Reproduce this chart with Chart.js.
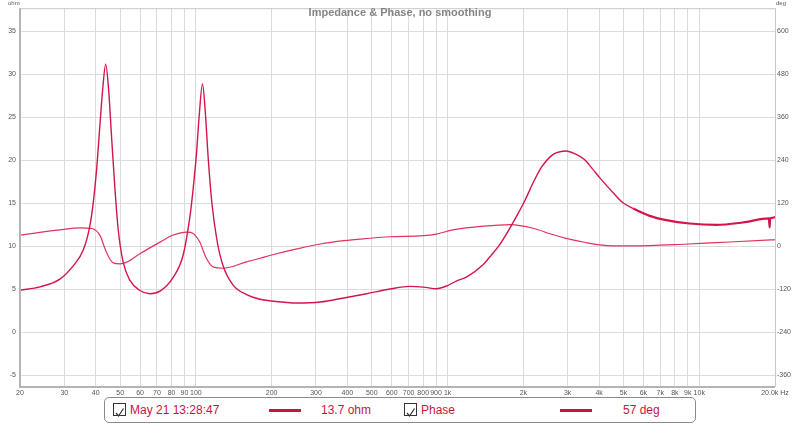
<!DOCTYPE html>
<html>
<head>
<meta charset="utf-8">
<script src="https://cdn.jsdelivr.net/npm/chart.js@4.4.1/dist/chart.umd.min.js"></script>
<style>
  html, body { margin: 0; padding: 0; background: #fff; }
  #wrap { position: relative; width: 800px; height: 424px; font-family: "Liberation Sans", Arial, sans-serif; }
  canvas { position: absolute; left: 0; top: 0; }
  .unit { position: absolute; font-size: 6px; color: #555; top: 0px; }
  #title { position: absolute; left: 0; width: 800px; top: 6px; text-align: center; font-size: 11px; font-weight: bold; color: #858585; }
  #legend { position: absolute; left: 104px; top: 397px; width: 590px; height: 24px; border: 1px solid #8a8a8a; border-radius: 5px; background: #fff; }
  .lg { position: absolute; top: 5px; font-size: 12px; color: #c8143f; white-space: nowrap; }
  .cb { position: absolute; top: 5px; width: 11px; height: 11px; border: 1px solid #333; background: #fff; }
  .swatch { position: absolute; top: 11px; width: 32px; height: 3px; background: #c8143f; }
</style>
</head>
<body>
<div id="wrap">
  <canvas id="chart" width="800" height="424"></canvas>
  <div class="unit" style="left:8px">ohm</div>
  <div class="unit" style="left:776px">deg</div>
  <div id="title">Impedance &amp; Phase, no smoothing</div>
  <div id="legend">
    <div class="cb" style="left:8px"><svg width="11" height="11"><polyline points="2,6 4.5,9 9.5,1.5" fill="none" stroke="#333" stroke-width="1.2"/></svg></div>
    <div class="lg" style="left:25px">May 21 13:28:47</div>
    <div class="swatch" style="left:164px"></div>
    <div class="lg" style="left:216px">13.7 ohm</div>
    <div class="cb" style="left:299px"><svg width="11" height="11"><polyline points="2,6 4.5,9 9.5,1.5" fill="none" stroke="#333" stroke-width="1.2"/></svg></div>
    <div class="lg" style="left:316px">Phase</div>
    <div class="swatch" style="left:455px"></div>
    <div class="lg" style="left:518px">57 deg</div>
  </div>
</div>
<script>
// impedance magnitude (ohm)
const impFreq = [20, 24, 28.8, 32.6, 35.7, 37.9, 39.1, 40.3, 41.6, 42.6, 43.8, 45, 46.3, 47.7, 49.1, 51.4, 54.7, 59.7, 65.6, 72, 81.2, 89, 94.7, 97.1, 100.6, 103, 106.2, 108.8, 112, 115.7, 121, 128, 140.8, 159, 179.6, 200, 252, 312, 387, 477, 590, 707, 802, 902, 1000, 1088, 1188, 1386, 1474, 1612, 1743, 1888, 2034, 2204, 2372, 2574, 2712, 2956, 3216, 3498, 3746, 4020, 4432, 4960, 5470, 6350, 7400, 9160, 11700, 14900, 18900, 19050, 19150, 19300, 20000];
const impOhm = [4.9, 5.3, 6.2, 7.77, 9.6, 12.4, 15.1, 18.9, 24.3, 28.2, 31.2, 28.2, 22.4, 16.6, 12.0, 8.16, 6.04, 4.9, 4.5, 4.8, 6.4, 9.0, 13.5, 16.2, 20.9, 25.1, 28.9, 25.9, 20.1, 15.1, 10.86, 7.8, 5.46, 4.4, 3.85, 3.65, 3.42, 3.53, 4.0, 4.5, 5.04, 5.35, 5.27, 5.08, 5.45, 6.0, 6.42, 7.9, 8.8, 10.2, 11.8, 13.6, 15.4, 17.6, 19.3, 20.5, 20.9, 21.1, 20.75, 20.1, 19.1, 18.0, 16.6, 15.1, 14.4, 13.55, 13.05, 12.66, 12.5, 12.78, 13.25, 12.2, 13.3, 13.3, 13.4];

// impedance phase (deg)
const phaseFreq = [20, 28.8, 34.6, 38.6, 41.6, 44.1, 46.9, 50, 53.1, 59.7, 72, 81.2, 92.3, 97.1, 103.5, 110, 117.5, 128, 159, 180, 200, 252, 312, 387, 477, 590, 802, 902, 1050, 1386, 1780, 2204, 2574, 2956, 3498, 4020, 4600, 5400, 8700, 11700, 19300, 20000];
const phaseDeg = [31.7, 46, 51.9, 50, 30, -16.5, -45.9, -48.7, -44, -21, 12, 31.7, 40, 37, 13, -33, -58, -61, -43, -33, -24, -7, 6.7, 16, 22, 27, 30, 34.5, 46, 56.6, 61, 50, 34.5, 22.6, 11.6, 4, 1.4, 1.4, 6, 10.5, 18, 18.5];

// tick positions and labels
const freqTicks = [20, 30, 40, 50, 60, 70, 80, 90, 100, 200, 300, 400, 500, 600, 700, 800, 900, 1000, 2000, 3000, 4000, 5000, 6000, 7000, 8000, 9000, 10000, 20000];
const freqLabels = ["20", "30", "40", "50", "60", "70", "80", "90", "100", "200", "300", "400", "500", "600", "700", "800", "900", "1k", "2k", "3k", "4k", "5k", "6k", "7k", "8k", "9k", "10k", "20.0k Hz"];
const ohmTicks = [-5, 0, 5, 10, 15, 20, 25, 30, 35];
const degTicks = [-360, -240, -120, 0, 120, 240, 360, 480, 600];

const tickFont = { family: "'Liberation Sans', Arial, sans-serif", size: 7 };
const gridColor = "#dcdcdc";

const frame = {
  id: "frame",
  afterDraw(chart) {
    const { ctx, chartArea: a } = chart;
    ctx.save();
    ctx.strokeStyle = "#c8c8c8";
    ctx.lineWidth = 1;
    ctx.beginPath();
    ctx.moveTo(a.left, a.top + 0.5);
    ctx.lineTo(a.right + 0.5, a.top + 0.5);
    ctx.lineTo(a.right + 0.5, a.bottom);
    ctx.stroke();
    ctx.strokeStyle = "#b4b4b4";
    ctx.lineWidth = 2;
    ctx.beginPath();
    ctx.moveTo(a.left, a.top);
    ctx.lineTo(a.left, a.bottom);
    ctx.lineTo(a.right, a.bottom);
    ctx.stroke();
    ctx.restore();
  }
};

new Chart(document.getElementById("chart"), {
  type: "line",
  data: {
    datasets: [
      {
        label: "May 21 13:28:47",
        data: impFreq.map((f, i) => ({ x: f, y: impOhm[i] })),
        yAxisID: "y",
        borderColor: "#d2164a",
        borderWidth: 1.4,
        segment: { borderWidth: c => (c.p0.parsed.x > 5000 ? 2.2 : 1.4) },
        pointRadius: 0,
        cubicInterpolationMode: "monotone",
        fill: false,
      },
      {
        label: "Phase",
        data: phaseFreq.map((f, i) => ({ x: f, y: phaseDeg[i] })),
        yAxisID: "y2",
        borderColor: "#e0325f",
        borderWidth: 1.2,
        pointRadius: 0,
        cubicInterpolationMode: "monotone",
        fill: false,
      },
    ],
  },
  options: {
    responsive: false,
    animation: false,
    layout: { padding: { top: 6, left: 0, right: 0, bottom: 0 } },
    plugins: { legend: { display: false }, tooltip: { enabled: false } },
    scales: {
      x: {
        type: "logarithmic",
        min: 20,
        max: 20000,
        afterBuildTicks: s => { s.ticks = freqTicks.map(v => ({ value: v })); },
        afterFit: s => { s.height = 37; },
        ticks: {
          font: tickFont,
          color: "#555",
          padding: 2,
          maxRotation: 0,
          autoSkip: false,
          callback: (v, i) => freqLabels[i],
        },
        grid: { color: gridColor, drawTicks: false },
        border: { display: false },
      },
      y: {
        position: "left",
        min: -6.35,
        max: 37.7,
        afterBuildTicks: s => { s.ticks = ohmTicks.map(v => ({ value: v })); },
        afterFit: s => { s.width = 20; },
        ticks: { font: tickFont, color: "#555", padding: 4 },
        grid: { color: gridColor, drawTicks: false },
        border: { display: false },
      },
      y2: {
        position: "right",
        min: -392.4,
        max: 664.8,
        afterBuildTicks: s => { s.ticks = degTicks.map(v => ({ value: v })); },
        afterFit: s => { s.width = 25; },
        ticks: { font: tickFont, color: "#555", padding: 2 },
        grid: { drawOnChartArea: false, drawTicks: false },
        border: { display: false },
      },
    },
  },
  plugins: [frame],
});
</script>
</body>
</html>
